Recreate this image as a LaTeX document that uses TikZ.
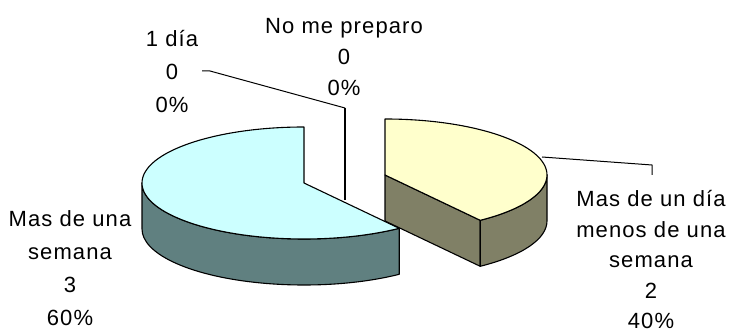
\documentclass[tikz,border=0pt]{standalone}
\usepackage{fontspec}
\setmainfont{Liberation Sans}[LetterSpace=5]
\usetikzlibrary{calc}
\definecolor{bluetop}{HTML}{CCFFFF}
\definecolor{bluedark}{HTML}{608080}
\definecolor{yeltop}{HTML}{FFFFCC}
\definecolor{yelside}{HTML}{808066}
\begin{document}
\begin{tikzpicture}[x=1pt,y=1pt,line join=round,
  edge/.style={draw=black,line width=1.1pt},
  leader/.style={draw=black,line width=1pt},
  lbl/.style={align=center,inner sep=0pt},
  ell/.style={x radius=162pt,y radius=56pt}]
\useasboundingbox (0,0) rectangle (732,334);
\coordinate (B) at (304,151);
\coordinate (Y) at (385,159);
% blue slice (60%)
\path[edge,fill=bluedark] ($(B)+(180:162pt and 56pt)$)
  arc[start angle=180,end angle=306,ell]
  -- ++(0pt,-46pt)
  arc[start angle=306,end angle=180,ell] -- cycle;
\path[edge,fill=bluetop] (B) -- ($(B)+(90:162pt and 56pt)$)
  arc[start angle=90,end angle=306,ell] -- cycle;
% yellow slice (40%)
\path[edge,fill=yelside] (Y) -- ($(Y)+(306:162pt and 56pt)$) -- ++(0pt,-46pt)
  -- ($(Y)+(0pt,-46pt)$) -- cycle;
\path[edge,fill=yelside] ($(Y)+(306:162pt and 56pt)$)
  arc[start angle=306,end angle=360,ell]
  -- ++(0pt,-46pt)
  arc[start angle=360,end angle=306,ell] -- cycle;
\path[edge,fill=yeltop] (Y) -- ($(Y)+(90:162pt and 56pt)$)
  arc[start angle=90,end angle=-54,ell] -- cycle;
% labels
\node[lbl,font=\fontsize{22}{31}\selectfont] (nomep) at (344,277) {No me preparo\\0\\0\%};
\node[lbl,font=\fontsize{22}{33}\selectfont] (unodia) at (172,262) {1 día\\0\\0\%};
\node[lbl,font=\fontsize{22}{33}\selectfont] (semana) at (70,66) {Mas de una\\semana\\3\\60\%};
\node[lbl,font=\fontsize{22}{30.5}\selectfont] (masdia) at (651,74) {Mas de un día\\menos de una\\semana\\2\\40\%};
% leaders
\coordinate (l1a) at (202,263);
\coordinate (l1b) at (210,263);
\coordinate (l1c) at (345,226);
\coordinate (l1d) at (345,134);
\draw[leader] (l1a) -- (l1b) -- (l1c);
\draw[leader,line width=2pt] (l1c) -- (l1d);
\coordinate (l2a) at (542,177);
\coordinate (l2b) at (652,169);
\coordinate (l2c) at (652,159);
\draw[leader] (l2a) -- (l2b) -- (l2c);
\end{tikzpicture}
\end{document}
